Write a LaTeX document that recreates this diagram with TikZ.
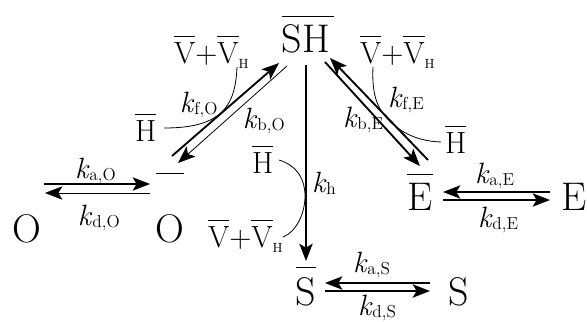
\documentclass[tikz,border=0pt]{standalone}
\usepackage{tikz}
\usetikzlibrary{arrows.meta}
\newcommand\ovl[2][4pt]{\leavevmode\vbox{\hrule height 0.9pt\kern#1\hbox{#2}}}
\newcommand\rk[1]{\textit{k}\raisebox{-2pt}{\fontsize{13}{13}\selectfont #1}}
\newcommand\vvh{\ovl[3.5pt]{V}+\ovl[3.5pt]{V}\raisebox{-4pt}{\fontsize{10}{10}\selectfont H}}
\begin{document}
\begin{tikzpicture}[x=0.75pt,y=-0.75pt,>={Stealth[length=13pt,width=10pt,inset=3pt]},every node/.style={inner sep=0pt,outer sep=0pt},big/.style={font=\fontsize{30}{30}\selectfont,anchor=base},lbl/.style={font=\fontsize{23}{23}\selectfont,anchor=base west},rate/.style={font=\fontsize{22}{22}\selectfont,anchor=base west},heavy/.style={line width=1.4pt,->},light/.style={line width=0.6pt,->},link/.style={line width=0.6pt}]
\useasboundingbox (0,0) rectangle (587,322);
% species
\node[big](sh) at (308,52){\ovl[5pt]{SH\kern3pt}};
\node[big](o) at (27,242){O};
\node[big](obar) at (170,242){\ovl[30pt]{O}};
\node[big](ebar) at (420,210){\ovl[6pt]{E}};
\node[big](e) at (574,210){E};
\node[big](sbar) at (306,305){\ovl[7pt]{S}};
\node[big](s) at (459,305){S};
% rate constants
\node[rate](kaO) at (75,178){\rk{a,O}};
\node[rate](kdO) at (78,225){\rk{d,O}};
\node[rate](kaE) at (475,183){\rk{a,E}};
\node[rate](kdE) at (478,227){\rk{d,E}};
\node[rate](kaS) at (353,272){\rk{a,S}};
\node[rate](kdS) at (358,315){\rk{d,S}};
\node[rate](kfO) at (180,112){\rk{f,O}};
\node[rate](kbO) at (243,128){\rk{b,O}};
\node[rate](kfE) at (388,107){\rk{f,E}};
\node[rate](kbE) at (343,127){\rk{b,E}};
\node[rate](kh) at (312,192){\rk{h}};
% co-reactants
\node[lbl](vvO) at (174,63){\vvh};
\node[lbl](vvE) at (360,63){\vvh};
\node[lbl](vvS) at (208,247){\vvh};
\node[lbl](hO) at (135,141){\ovl[3.5pt]{H}};
\node[lbl](hE) at (445,153){\ovl[3.5pt]{H}};
\node[lbl](hS) at (252,173){\ovl[3.5pt]{H}};
% reactions
\draw[heavy]([shift={(17,-58)}]o.base)--([shift={(-20,-58)}]obar.base);
\draw[light]([shift={(-20,-49)}]obar.base)--([shift={(18,-49)}]o.base);
\draw[heavy]([shift={(2,-86)}]obar.base)--([shift={(-29,11)}]sh.base);
\draw[light]([shift={(-21,14)}]sh.base)--([shift={(8,-79)}]obar.base);
\draw[heavy]([shift={(8,-50)}]ebar.base)--([shift={(22,6)}]sh.base);
\draw[heavy]([shift={(17,10)}]sh.base)--([shift={(0,-44)}]ebar.base);
\draw[heavy]([shift={(-2,13)}]sh.base)--([shift={(0,-44)}]sbar.base);
\draw[heavy]([shift={(-24,-18)}]e.base)--([shift={(23,-18)}]ebar.base);
\draw[heavy]([shift={(23,-10)}]ebar.base)--([shift={(-24,-10)}]e.base);
\draw[heavy]([shift={(-29,-22)}]s.base)--([shift={(19,-22)}]sbar.base);
\draw[heavy]([shift={(19,-14)}]sbar.base)--([shift={(-29,-14)}]s.base);
% co-reactant links
\draw[link]([shift={(63,4)}]vvO.base west) .. controls (236,92) and (230,104) .. (221,113) .. controls (208,124) and (190,128) .. ([shift={(29,-13)}]hO.base west);
\draw[link]([shift={(13,4)}]vvE.base west) .. controls (372,88) and (375,102) .. (382,112) .. controls (392,126) and (410,141) .. ([shift={(-4,-11)}]hE.base west);
\draw[link]([shift={(27,-13)}]hS.base west) .. controls (298,166) and (305,180) .. (305,196) .. controls (305,214) and (296,232) .. ([shift={(75,-10)}]vvS.base west);
\end{tikzpicture}
\end{document}
